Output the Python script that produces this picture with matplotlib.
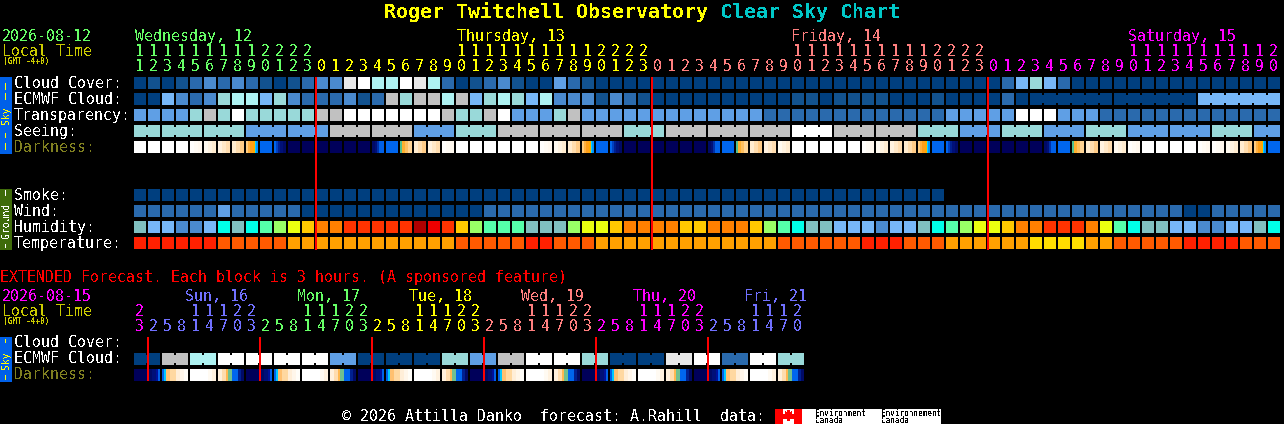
import matplotlib
matplotlib.use("Agg")
import matplotlib.pyplot as plt

plt.rcParams['font.family'] = ['DejaVu Sans Mono']
plt.rcParams['text.antialiased'] = False

# ---------- data ----------
main_hours = [11,12,13,14,15,16,17,18,19,20,21,22,23,
              0,1,2,3,4,5,6,7,8,9,10,11,12,13,14,15,16,17,18,19,20,21,22,23,
              0,1,2,3,4,5,6,7,8,9,10,11,12,13,14,15,16,17,18,19,20,21,22,23,
              0,1,2,3,4,5,6,7,8,9,10,11,12,13,14,15,16,17,18,19,20]
main_day_of_col = [0]*13 + [1]*24 + [2]*24 + [3]*21
main_days = ["Wednesday, 12", "Thursday, 13", "Friday, 14", "Saturday, 15"]
main_day_col = [0, 23, 47, 71]
midnight_cols = [13, 37, 61]

cloud_cover  = "ABABCDCDCB" "ABCDDIJHHJ" "IHCABCDBAA" "ECBAAAAAAA" "AAAAAAAAAA" "AAAAAAAAAA" "AACFGFCAAA" "AAAAAAAAAA" "AA"
ecmwf_cloud  = "AAFDCDGHHF" "GDCCCDBCSG" "SSHSFGHGFH" "DDDBDCBAAA" "AAAAAAABBA" "BBBBAAABAA" "AACAAAAAAA" "AAAAAAFFFF" "FF"
transparency = "EEEEGSGJGG" "GGGSSJJJJJ" "JJSGGSJEEE" "GSEEEEEEEE" "EEEEECCCCC" "CCCCCCCCEE" "EEEJJJEEEC" "CCCCCCCCCC" "CC"
seeing_spans  = [2,3,3,3,3,3,3,3,3,3,3,3,3,3,3,3,3,3,3,3,3,3,3,3,3,3,3,2]
seeing_levels = "GGGEESSEGSSSGSSSJSSGEGEGEEGE"
ecmwf_spans = [6, 6, 6]          # joined blocks at the end of the ECMWF row
ecmwf_span_start = [64, 70, 76]
darkness = "WWWWabcdsB" "nKKKKKKmBt" "dcaWWWWWWa" "bdsBnKKKKK" "KmBtdcbWWW" "WWabcdsBnK" "KKKKKmBtdc" "baWWWWaabd" "sB"

smoke = "AAAAAAAAAA" "AAAAAAAAAA" "AAAAAAAAAA" "AAAAAAAAAA" "AAAAAAAAAA" "AAAAAAAA"
wind  = "CCCCCCECCC" "CCAAAAAAAA" "AAAAACCCCC" "CCCCCCCCCC" "CCCCCCCCCC" "CCCCCCCCCC" "CCCCCCCCCC" "CCCCCAACCC" "CC"
humidity = "TFFDDFcTcp" "gyorreeeee" "KReogpppTT" "Tgyyorrrro" "orrrogpcTT" "FFFDFFTcpg" "yyorreeery" "pcTTFFDDFF" "Tc"
temperature = "RRRRRROOOO" "OAAAAAAAAA" "AAAOOOOORR" "OOOAAAAAAA" "AAAAAAOOOO" "OORRROOOAA" "AAAAYYYYAA" "OOOOORRRRO" "OO"

ext_hours = [23] + [2,5,8,11,14,17,20,23]*5 + [2,5,8,11,14,17,20]
ext_day_of_col = [3] + [4]*8 + [5]*8 + [6]*8 + [7]*8 + [8]*8 + [9]*7
ext_days = ["Sun, 16", "Mon, 17", "Tue, 18", "Wed, 19", "Thu, 20", "Fri, 21"]
ext_day_col = [3.65, 11.65, 19.65, 27.65, 35.65, 43.6]
ext_midnight_cols = [1, 9, 17, 25, 33, 41]
ext_ecmwf = "AASSHHJJJJ" "JJJJEEAAAA" "AAGGEESSJJ" "JJGGAAAAII" "JJCCJJGG"
ext_dark  = "KefgWhij" "KefgWhij" "KefgWhij" "KefgWhij" "KefgWhij" "KefgWhij"

row_labels = ["Cloud Cover:", "ECMWF Cloud:", "Transparency:", "Seeing:", "Darkness:"]
ground_labels = ["Smoke:", "Wind:", "Humidity:", "Temperature:"]
ext_labels = ["Cloud Cover:", "ECMWF Cloud:", "Darkness:"]

# ---------- styles ----------
day_colors = ["#66ff66", "#ffff00", "#ff7f7f", "#ff00ff", "#7070ff",
              "#66ff66", "#ffff00", "#ff7f7f", "#ff00ff", "#7070ff"]
sky = {'A':"#003f7f",'B':"#12528f",'C':"#2a6aad",'D':"#4a8ace",'E':"#5f9fe5",'F':"#77b7f7",
       'G':"#99d9d9",'H':"#aef2f2",'I':"#e8e8e8",'J':"#ffffff",'S':"#c1c1c1"}
hum = {'T':"#80c0c0",'F':"#77b7f7",'D':"#4a8ace",'c':"#00ffe8",'p':"#55ffaa",'g':"#99ff66",
       'y':"#eaff10",'o':"#ffc800",'r':"#ff8000",'e':"#ff3300",'R':"#ee0000",'K':"#b00000"}
tmp = {'R':"#ff2000",'O':"#ff5a00",'A':"#ffa000",'Y':"#ffdd00"}
wh,k0,k1 = "#ffffff","#00005a","#000a66"
strip = {
 'W':[wh]*12,
 'a':["#fffefc"]*4+["#fffbf4"]*4+["#fff8ee"]*4,
 'b':["#fffaf0"]*4+["#fff3e0"]*4+["#ffecd0"]*4,
 'c':["#fff2e0"]*4+["#ffe8c8"]*4+["#ffddb0"]*4,
 'd':["#ffecd0"]*4+["#ffddae"]*4+["#ffcc88"]*4,
 's':["#ffcc80"]*2+["#ffb040"]*2+["#ff9f18"]*3+["#ffa800"]*2+["#00d8ff"]*1+["#0090ff"]*2,
 'B':["#0066ee"]*12,
 'n':["#0066ee"]*2+["#0040c0"]*2+["#002090"]*2+["#001078"]*3+[k1]*3,
 'K':[k0]*12,
 'm':[k1]*3+["#001078"]*2+["#0030a8"]*2+["#0060e8"]*5,
 't':["#50c090"]*2+["#ffb030"]*3+["#ffc060"]*3+["#ffd494"]*4,
 'e':[k1]*4+["#000f78"]*4+["#00109a"]*2+["#0060e8"]*2,
 'f':["#0060e8"]*2+["#00c8ff"]*2+["#ffc070"]*4+["#ffd8a0"]*4,
 'g':["#ffeed8"]*4+["#fff6ea"]*4+["#fffdf8"]*4,
 'h':["#ffffff"]*4+["#fffaf2"]*4+["#fff2e0"]*4,
 'i':["#fff0dc"]*4+["#ffdcae"]*4+["#ffb850"]*2+["#70c090"]*2,
 'j':["#0066ee"]*6+["#002090"]*3+[k1]*3,
}
lab_dark = "#808020"; lt_col = "#cccc00"; band_sky = "#0060e8"; band_ground = "#3f6b0a"
X0, STEP, CELL, FS, FS_T = 134, 14, 12, 10.76, 14.35

fig = plt.figure(figsize=(12.84, 4.24), dpi=100, facecolor="black")
ax = fig.add_axes([0, 0, 1, 1]); ax.set_xlim(0, 1284); ax.set_ylim(424, 0); ax.axis("off")

def rect(x, y, w, h, c):
    ax.bar(x, h, width=w, bottom=y, align="edge", color=c, linewidth=0, antialiased=False)

def txt(x, y, s, c="#ffffff", fs=FS, **kw):
    ax.text(x, y + 1, s, color=c, fontsize=fs, va="baseline", ha=kw.pop("ha", "left"), **kw)

def row(y, codes, pal):
    for i, ch in enumerate(codes):
        rect(X0 + i*STEP, y, CELL, CELL, pal[ch])

def join(y, first, n, color):
    for i in range(first, first + n - 1):
        rect(X0 + i*STEP + CELL, y + 2, STEP - CELL, 8, color)

def stripes(y, codes, joined=False):
    for i, ch in enumerate(codes):
        for j, col in enumerate(strip[ch]):
            rect(X0 + i*STEP + j, y, 1, CELL, col)
        if joined and i % 2 == 0:
            rect(X0 + i*STEP + CELL, y, STEP - CELL, CELL, strip[ch][-1])

def band_text(yc, s, col):
    ax.text(6, yc, s, color=col, fontsize=7.0, rotation=90, ha="center", va="center")

# title
txt(384, 17, "Roger Twitchell Observatory", "#ffff00", FS_T, fontweight="bold")
txt(720, 17, "Clear Sky Chart", "#00c8c8", FS_T, fontweight="bold")

# main header
txt(2, 40, "2026-08-12", day_colors[0]); txt(2, 55, "Local Time", lt_col)
txt(3, 63, "(GMT -4+0)", lt_col, 5.6, fontweight="bold")
for name, c, d, off in zip(main_days, main_day_col, range(4), [1, 1, -1, 0]):
    txt(X0 + c*STEP + off, 40, name, day_colors[d])
for i, (h, d) in enumerate(zip(main_hours, main_day_of_col)):
    if h >= 10:
        txt(X0 + i*STEP + 5.5, 55, str(h//10), day_colors[d], ha="center")
    txt(X0 + i*STEP + 5.5, 70, str(h % 10), day_colors[d], ha="center")

# sky rows
rect(0, 77, 12, 77, band_sky)
band_text(115.5, "Sky", "#ffff00")
for ys, ln in zip([83, 93, 133, 143], [7, 7, 5, 7]):
    rect(5, ys, 1, ln, "#ffff00")
y_rows = [77, 93, 109, 125, 141]
for y, lab in zip(y_rows, row_labels):
    txt(14, y + 10, lab, lab_dark if lab == "Darkness:" else "#ffffff")
row(y_rows[0], cloud_cover, sky)
row(y_rows[1], ecmwf_cloud, sky)
for st, n in zip(ecmwf_span_start, ecmwf_spans):
    join(y_rows[1], st, n, sky[ecmwf_cloud[st]])
row(y_rows[2], transparency, sky)
pos = 0
for n, ch in zip(seeing_spans, seeing_levels):
    for i in range(pos, pos + n):
        rect(X0 + i*STEP, y_rows[3], CELL, CELL, sky[ch])
    join(y_rows[3], pos, n, sky[ch])
    pos += n
stripes(y_rows[4], darkness)

# ground rows
rect(0, 189, 12, 61, band_ground)
band_text(220, "Ground", "#ffffff")
for ys, ln in zip([190, 244], [6, 4]):
    rect(5, ys, 1, ln, "#ffffff")
g_rows = [189, 205, 221, 237]
for y, lab in zip(g_rows, ground_labels):
    txt(14, y + 10, lab)
row(g_rows[0], smoke, sky); row(g_rows[1], wind, sky)
row(g_rows[2], humidity, hum); row(g_rows[3], temperature, tmp)

for c in midnight_cols:
    rect(X0 + c*STEP - 1, 77, 2, 173, "#ff0000")

# extended
txt(0, 281, "EXTENDED Forecast. Each block is 3 hours. (A sponsored feature)", "#ff0000")
txt(2, 300, "2026-08-15", "#ff00ff"); txt(2, 315, "Local Time", lt_col)
txt(3, 323, "(GMT -4+0)", lt_col, 5.6, fontweight="bold")
for name, c, d in zip(ext_days, ext_day_col, range(4, 10)):
    txt(X0 + c*STEP, 300, name, day_colors[d])
for i, (h, d) in enumerate(zip(ext_hours, ext_day_of_col)):
    if h >= 10:
        txt(X0 + i*STEP + 5.5, 315, str(h//10), day_colors[d], ha="center")
    txt(X0 + i*STEP + 5.5, 330, str(h % 10), day_colors[d], ha="center")
rect(0, 337, 12, 45, band_sky)
band_text(360, "Sky", "#ffff00")
for ys, ln in zip([339, 375], [4, 5]):
    rect(5, ys, 1, ln, "#ffff00")
e_rows = [337, 353, 369]
for y, lab in zip(e_rows, ext_labels):
    txt(14, y + 9, lab, lab_dark if lab == "Darkness:" else "#ffffff")
row(e_rows[1], ext_ecmwf, sky)
for st in range(0, len(ext_ecmwf), 2):
    join(e_rows[1], st, 2, sky[ext_ecmwf[st]])
stripes(e_rows[2], ext_dark, joined=True)
for c in ext_midnight_cols:
    rect(X0 + c*STEP - 1, 337, 2, 44, "#ff0000")

# footer
txt(342, 420, "\u00a9 2026 Attilla Danko  forecast: A.Rahill  data:")
rect(775, 409, 166, 15, "#ffffff")
rect(775, 409, 8, 15, "#ff0000"); rect(794, 409, 8, 15, "#ff0000")
leaf_x = [788.5, 790, 792, 791.5, 795, 794, 795, 790, 789, 788, 787, 782, 783, 782, 785.5, 785, 787]
leaf_y = [410, 412.5, 411.5, 415, 414, 416.5, 418, 419, 421, 421, 419, 418, 416.5, 414, 415, 411.5, 412.5]
ax.fill(leaf_x, leaf_y, color="#ff0000", linewidth=0, antialiased=False)
txt(815, 415, "Environment", "#000000", 5.6); txt(815, 422, "Canada", "#000000", 5.6)
txt(881, 415, "Environnement", "#000000", 5.6); txt(881, 422, "Canada", "#000000", 5.6)

fig.savefig("out.png", dpi=100, facecolor="black")
